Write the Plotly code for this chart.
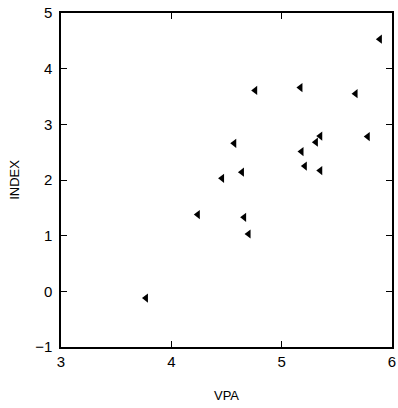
import plotly.graph_objects as go

vpa = [5.89, 4.76, 5.17, 5.67, 4.57, 5.35, 5.31, 5.78, 5.18, 5.21, 5.35, 4.64, 4.46, 4.24, 4.66, 4.70, 3.77]
index = [4.53, 3.61, 3.66, 3.55, 2.66, 2.79, 2.68, 2.78, 2.51, 2.25, 2.17, 2.14, 2.03, 1.38, 1.33, 1.03, -0.12]

x_ticks = [3, 4, 5, 6]
y_ticks = [-1, 0, 1, 2, 3, 4, 5]

fig = go.Figure()
fig.add_trace(go.Scatter(
    x=vpa, y=index, mode="markers",
    marker=dict(symbol="triangle-left", size=8, color="black"),
    showlegend=False,
))

font = dict(family="Liberation Sans, Arial, sans-serif", size=15, color="black")

fig.update_layout(
    width=398, height=408,
    margin=dict(l=61, r=2, t=13, b=61),
    plot_bgcolor="white", paper_bgcolor="white",
    font=font,
)
fig.update_xaxes(
    range=[3, 6], tickvals=x_ticks, ticktext=[str(v) for v in x_ticks],
    ticks="inside", ticklen=6, tickcolor="black", tickwidth=1,
    showline=True, linecolor="black", linewidth=1.5, mirror="ticks",
    showgrid=False, zeroline=False, ticklabeloverflow="allow",
    title=dict(text="VPA", font=dict(size=13, color="black"), standoff=22),
)
fig.update_yaxes(
    range=[-1, 5], tickvals=y_ticks, ticktext=[str(v).replace("-", "\u2212") for v in y_ticks],
    ticks="inside", ticklen=6, tickcolor="black", tickwidth=1,
    showline=True, linecolor="black", linewidth=1.5, mirror="ticks",
    showgrid=False, zeroline=False, ticklabelstandoff=4,
    title=dict(text="INDEX", font=dict(size=13, color="black"), standoff=13),
)

fig.write_html("out.html")
